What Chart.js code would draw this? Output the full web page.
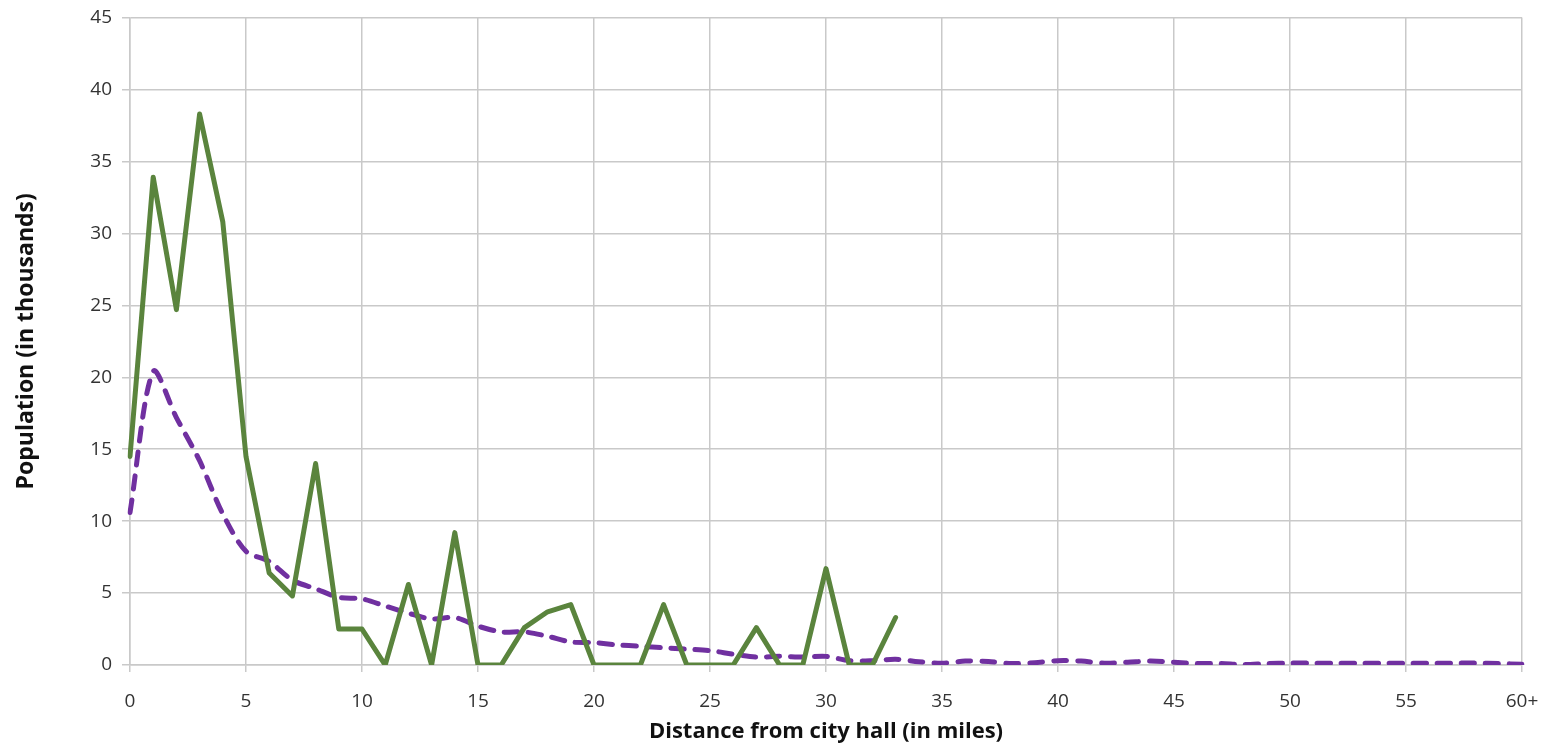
<!DOCTYPE html>
<html>
<head>
<meta charset="utf-8">
<script src="https://cdn.jsdelivr.net/npm/chart.js@4"></script>
<style>
  html, body { margin: 0; padding: 0; background: #fff; }
  #wrap { width: 1558px; height: 749px; }
</style>
</head>
<body>
<div id="wrap"><canvas id="distance-chart"></canvas></div>
<script>
const distances = ['0','1','2','3','4','5','6','7','8','9','10','11','12','13','14','15','16','17','18','19','20',
  '21','22','23','24','25','26','27','28','29','30','31','32','33','34','35','36','37','38','39','40',
  '41','42','43','44','45','46','47','48','49','50','51','52','53','54','55','56','57','58','59','60+'];

// green solid line (stops at 33 miles)
const cityPop = [14.5, 33.9, 24.7, 38.3, 30.8, 14.5, 6.4, 4.8, 14.0, 2.5, 2.5, 0, 5.6, 0, 9.2, 0, 0, 2.6, 3.7, 4.2,
  0, 0, 0, 4.2, 0, 0, 0, 2.6, 0, 0, 6.7, 0, 0, 3.3];

// purple dashed line
const comparePop = [10.6, 20.4, 17.2, 14.2, 10.5, 7.9, 7.2, 5.9, 5.3, 4.7, 4.6, 4.1, 3.6, 3.2, 3.3, 2.7, 2.3, 2.3, 2.0, 1.6,
  1.55, 1.4, 1.3, 1.2, 1.1, 1.0, 0.75, 0.55, 0.6, 0.55, 0.6, 0.3, 0.3, 0.4, 0.23, 0.13, 0.27, 0.24, 0.1, 0.16,
  0.3, 0.27, 0.13, 0.19, 0.27, 0.19, 0.1, 0.1, 0.03, 0.1, 0.13, 0.13, 0.13, 0.13, 0.13, 0.13, 0.13, 0.13, 0.13, 0.1, 0.05];

const yTicks = [0, 45, 5]; // min, max, step

const ctx = document.getElementById('distance-chart');
const fontFam = "'Open Sans', Lato, sans-serif";
const gridCol = '#c9c9c9';

new Chart(ctx, {
  type: 'line',
  data: {
    labels: distances,
    datasets: [{
      data: cityPop,
      borderColor: '#5a843d',
      borderWidth: 5,
      pointRadius: 0,
      tension: 0,
      borderJoinStyle: 'round',
      borderCapStyle: 'round'
    }, {
      data: comparePop,
      borderColor: '#7030a0',
      borderWidth: 5,
      borderDash: [13, 11],
      borderCapStyle: 'round',
      pointRadius: 0,
      tension: 0.3
    }]
  },
  options: {
    responsive: true,
    maintainAspectRatio: false,
    animation: false,
    layout: {
      padding: { left: 13, right: 36, top: 4, bottom: 4 }
    },
    plugins: {
      legend: { display: false },
      tooltip: { enabled: false }
    },
    scales: {
      x: {
        offset: false,
        grid: {
          color: (c) => (c.index % 5 === 0 ? gridCol : 'rgba(0,0,0,0)'),
          lineWidth: 1.5,
          tickLength: 7
        },
        border: { color: gridCol, width: 1.5 },
        ticks: {
          autoSkip: false,
          maxRotation: 0,
          color: '#333',
          font: { family: fontFam, size: 19 },
          padding: 18,
          callback: function (v, i) { return i % 5 === 0 ? distances[i] : ''; }
        },
        title: {
          display: true,
          text: 'Distance from city hall (in miles)',
          color: '#111',
          font: { family: fontFam, size: 22, weight: 'bold' },
          padding: { top: 4, bottom: 0 }
        },
        afterFit: (s) => { s.height = 80; }
      },
      y: {
        min: yTicks[0],
        max: yTicks[1],
        grid: { color: gridCol, lineWidth: 1.5, tickLength: 8 },
        border: { color: gridCol, width: 1.5 },
        ticks: {
          stepSize: yTicks[2],
          color: '#333',
          font: { family: fontFam, size: 19, lineHeight: 0.8 },
          padding: 10
        },
        title: {
          display: true,
          text: 'Population (in thousands)',
          color: '#111',
          font: { family: fontFam, size: 23, weight: 'bold' },
          padding: { top: 0, bottom: 0 }
        },
        afterFit: (s) => { s.width = 117; }
      }
    }
  }
});
</script>
</body>
</html>
